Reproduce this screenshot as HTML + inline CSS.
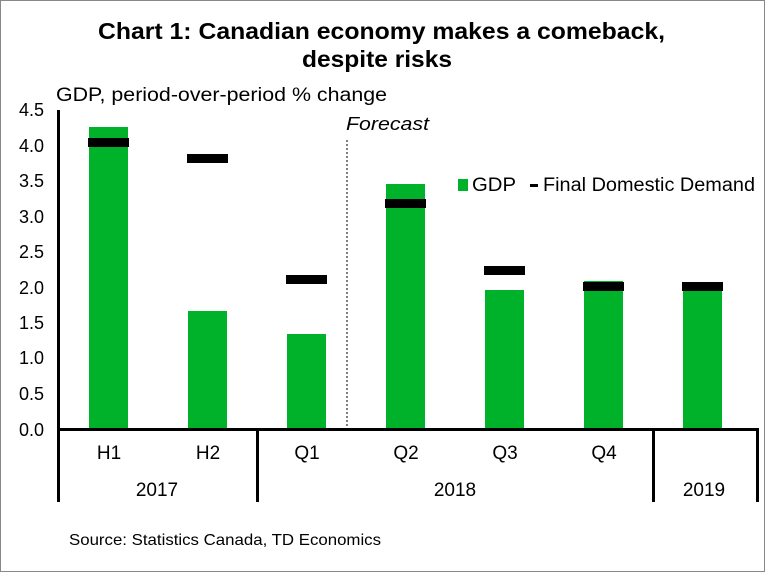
<!DOCTYPE html>
<html><head><style>
body{margin:0;background:#fff}
svg{display:block;font-family:"Liberation Sans",Arial,sans-serif}
</style></head><body>
<svg width="765" height="572" viewBox="0 0 765 572">
<rect x="0.5" y="0.5" width="764" height="571" fill="#fff" stroke="#888"/>
<text x="98" y="39" font-size="23" font-weight="bold" textLength="567" lengthAdjust="spacingAndGlyphs">Chart 1: Canadian economy makes a comeback,</text>
<text x="302" y="67" font-size="23" font-weight="bold" textLength="150" lengthAdjust="spacingAndGlyphs">despite risks</text>
<text x="56" y="101" font-size="19" textLength="331" lengthAdjust="spacingAndGlyphs">GDP, period-over-period % change</text>
<g font-size="18" text-anchor="end">
<text x="44" y="116">4.5</text><text x="44" y="152">4.0</text><text x="44" y="187">3.5</text>
<text x="44" y="223">3.0</text><text x="44" y="258">2.5</text><text x="44" y="294">2.0</text>
<text x="44" y="329">1.5</text><text x="44" y="364">1.0</text><text x="44" y="400">0.5</text>
<text x="44" y="436">0.0</text>
</g>
<line x1="347" y1="140" x2="347" y2="428" stroke="#000" stroke-width="1" stroke-dasharray="2,2"/>
<text x="346" y="130" font-size="18" font-style="italic" textLength="83" lengthAdjust="spacingAndGlyphs">Forecast</text>
<g fill="#00b22a">
<rect x="89" y="127" width="39" height="303"/>
<rect x="188" y="311" width="39" height="119"/>
<rect x="287" y="334" width="39" height="96"/>
<rect x="386" y="184" width="39" height="246"/>
<rect x="485" y="290" width="39" height="140"/>
<rect x="584" y="281" width="39" height="149"/>
<rect x="683" y="290" width="39" height="140"/>
</g>
<g fill="#000">
<rect x="88" y="138" width="41" height="9"/>
<rect x="187" y="154" width="41" height="9"/>
<rect x="286" y="275" width="41" height="9"/>
<rect x="385" y="199" width="41" height="9"/>
<rect x="484" y="266" width="41" height="9"/>
<rect x="583" y="282" width="41" height="9"/>
<rect x="682" y="282" width="41" height="9"/>
</g>
<rect x="57" y="110" width="3" height="392" fill="#000"/>
<rect x="57" y="428" width="702" height="3" fill="#000"/>
<rect x="256" y="428" width="3" height="74" fill="#000"/>
<rect x="652" y="428" width="3" height="74" fill="#000"/>
<rect x="756" y="428" width="3" height="74" fill="#000"/>
<g font-size="19" text-anchor="middle">
<text x="109" y="459">H1</text><text x="208" y="459">H2</text>
<text x="307" y="459">Q1</text><text x="406" y="459">Q2</text>
<text x="505" y="459">Q3</text><text x="604" y="459">Q4</text>
<text x="157" y="496">2017</text><text x="455" y="496">2018</text><text x="704" y="496">2019</text>
</g>
<rect x="458" y="179" width="10" height="12" fill="#00b22a"/>
<text x="472" y="191" font-size="19" textLength="44" lengthAdjust="spacingAndGlyphs">GDP</text>
<rect x="530" y="184" width="8" height="3" fill="#000"/>
<text x="543" y="191" font-size="19" textLength="212" lengthAdjust="spacingAndGlyphs">Final Domestic Demand</text>
<text x="69" y="545" font-size="16" textLength="312" lengthAdjust="spacingAndGlyphs">Source: Statistics Canada, TD Economics</text>
</svg>
</body></html>
